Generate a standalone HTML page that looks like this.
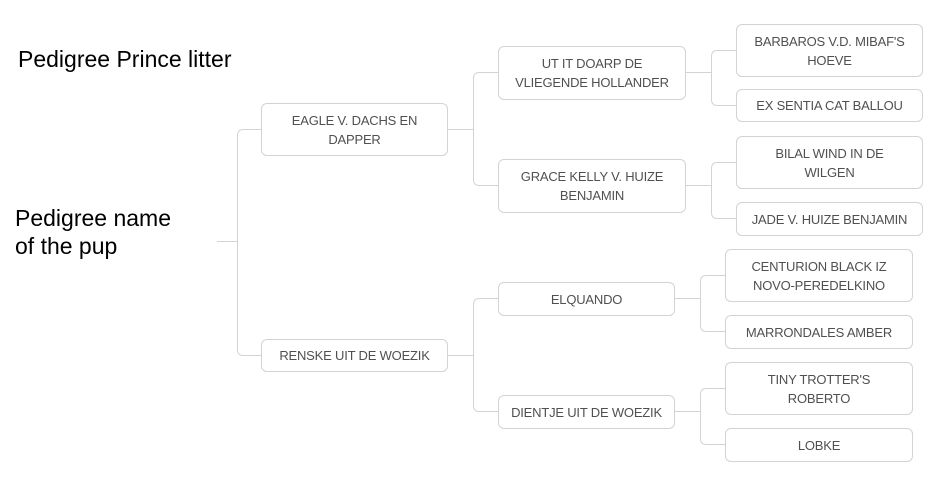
<!DOCTYPE html>
<html><head><meta charset="utf-8"><style>
body{margin:0;width:942px;height:478px;background:#fff;position:relative;overflow:hidden;font-family:"Liberation Sans",Arial,sans-serif}
.t{position:absolute;color:#000;font-size:23px;line-height:28px}
.b{position:absolute;box-sizing:border-box;border:1px solid #d3d3d3;border-radius:6px;background:#fff;color:#505050;font-size:13px;line-height:19px;text-align:center;display:flex;align-items:center;justify-content:center;padding:0 8px;letter-spacing:-0.2px}
svg{position:absolute;left:0;top:0}
</style></head><body>
<div class="t" style="left:18px;top:45px">Pedigree Prince litter</div>
<div class="t" style="left:15px;top:204px">Pedigree name<br>of the pup</div>
<svg width="942" height="478" fill="none" stroke="#d3d3d3" stroke-width="1">
<path d="M217 241.5H237.5"/>
<path d="M261 129.5H243.5Q237.5 129.5 237.5 135.5V349.5Q237.5 355.5 243.5 355.5H261"/>
<path d="M447 129.5H473.5"/>
<path d="M498 72.5H479.5Q473.5 72.5 473.5 78.5V179.5Q473.5 185.5 479.5 185.5H498"/>
<path d="M447 355.5H473.5"/>
<path d="M498 298.5H479.5Q473.5 298.5 473.5 304.5V405.5Q473.5 411.5 479.5 411.5H498"/>
<path d="M685 72.5H711.5"/>
<path d="M736 50.5H717.5Q711.5 50.5 711.5 56.5V99.5Q711.5 105.5 717.5 105.5H736"/>
<path d="M685 185.5H711.5"/>
<path d="M736 162.5H717.5Q711.5 162.5 711.5 168.5V212.5Q711.5 218.5 717.5 218.5H736"/>
<path d="M674 298.5H700.5"/>
<path d="M725 275.5H706.5Q700.5 275.5 700.5 281.5V325.5Q700.5 331.5 706.5 331.5H725"/>
<path d="M674 411.5H700.5"/>
<path d="M725 388.5H706.5Q700.5 388.5 700.5 394.5V438.5Q700.5 444.5 706.5 444.5H725"/>
</svg>
<div class="b" style="left:261px;top:103px;width:187px;height:53px">EAGLE V. DACHS EN<br>DAPPER</div>
<div class="b" style="left:261px;top:339px;width:187px;height:33px">RENSKE UIT DE WOEZIK</div>
<div class="b" style="left:498px;top:46px;width:188px;height:54px">UT IT DOARP DE<br>VLIEGENDE HOLLANDER</div>
<div class="b" style="left:498px;top:159px;width:188px;height:54px">GRACE KELLY V. HUIZE<br>BENJAMIN</div>
<div class="b" style="left:498px;top:282px;width:177px;height:34px">ELQUANDO</div>
<div class="b" style="left:498px;top:395px;width:177px;height:34px">DIENTJE UIT DE WOEZIK</div>
<div class="b" style="left:736px;top:24px;width:187px;height:53px">BARBAROS V.D. MIBAF'S<br>HOEVE</div>
<div class="b" style="left:736px;top:89px;width:187px;height:33px">EX SENTIA CAT BALLOU</div>
<div class="b" style="left:736px;top:136px;width:187px;height:53px">BILAL WIND IN DE<br>WILGEN</div>
<div class="b" style="left:736px;top:202px;width:187px;height:34px">JADE V. HUIZE BENJAMIN</div>
<div class="b" style="left:725px;top:249px;width:188px;height:53px">CENTURION BLACK IZ<br>NOVO-PEREDELKINO</div>
<div class="b" style="left:725px;top:315px;width:188px;height:34px">MARRONDALES AMBER</div>
<div class="b" style="left:725px;top:362px;width:188px;height:53px">TINY TROTTER'S<br>ROBERTO</div>
<div class="b" style="left:725px;top:428px;width:188px;height:34px">LOBKE</div>
</body></html>
